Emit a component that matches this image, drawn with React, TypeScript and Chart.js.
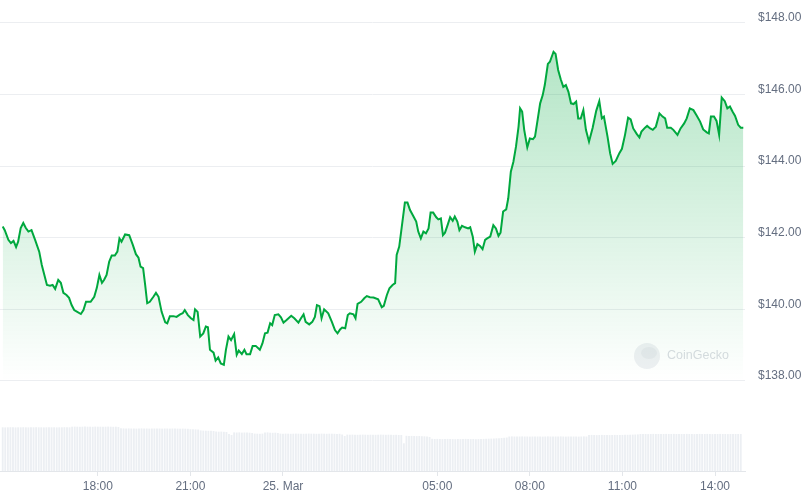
import React, { useEffect, useRef } from "react";
import { Chart, registerables } from "chart.js";

Chart.register(...registerables);

// Minutes since 24 Mar 14:55 for each traced price point
const priceMinutes = [
  0, 4, 11, 16, 21, 26, 30, 35, 40, 45,
  50, 56, 63, 71, 76, 81, 86, 92, 97, 102,
  108, 113, 118, 124, 129, 134, 139, 145, 152, 157,
  162, 171, 178, 183, 188, 193, 197, 202, 207, 212,
  218, 223, 227, 231, 238, 246, 253, 259, 264, 268,
  273, 277, 281, 286, 293, 298, 303, 309, 316, 320,
  325, 332, 338, 345, 350, 354, 360, 366, 371, 374,
  379, 384, 390, 395, 399, 403, 410, 414, 419, 424,
  430, 434, 439, 444, 450, 455, 459, 465, 470, 474,
  481, 486, 492, 500, 505, 510, 515, 520, 524, 529,
  536, 541, 546, 552, 561, 567, 575, 580, 585, 589,
  596, 602, 607, 611, 616, 620, 625, 633, 640, 646,
  651, 656, 660, 666, 671, 675, 682, 686, 690, 697,
  703, 708, 714, 721, 730, 737, 741, 747, 752, 758,
  763, 766, 771, 776, 782, 787, 792, 798, 804, 808,
  813, 818, 823, 828, 832, 837, 843, 847, 852, 856,
  860, 865, 870, 875, 879, 884, 888, 893, 899, 905,
  909, 914, 918, 923, 928, 933, 938, 942, 948, 954,
  959, 964, 968, 973, 979, 983, 988, 993, 998, 1003,
  1006, 1010, 1014, 1020, 1025, 1031, 1035, 1040, 1045, 1050,
  1054, 1060, 1064, 1071, 1075, 1080, 1085, 1090, 1095, 1100,
  1105, 1110, 1115, 1119, 1124, 1129, 1134, 1140, 1147, 1154,
  1160, 1165, 1169, 1176, 1181, 1186, 1192, 1199, 1204, 1210,
  1216, 1221, 1226, 1233, 1238, 1242, 1249, 1253, 1259, 1264,
  1270, 1277, 1283, 1288, 1292, 1299, 1304, 1312, 1318, 1325,
  1330, 1336, 1343, 1349, 1356, 1362, 1369, 1373, 1377, 1383,
  1388, 1393, 1398, 1404, 1409, 1414, 1419, 1424, 1430, 1435,
  1440,
];

const prices = [
  142.31, 142.21, 141.94, 141.85, 141.91, 141.74, 141.89, 142.27, 142.41, 142.27,
  142.17, 142.21, 141.94, 141.61, 141.24, 140.96, 140.68, 140.66, 140.68, 140.57,
  140.82, 140.74, 140.46, 140.40, 140.32, 140.12, 139.98, 139.93, 139.87, 139.98,
  140.21, 140.21, 140.35, 140.60, 140.96, 140.74, 140.82, 140.96, 141.33, 141.50,
  141.50, 141.61, 141.98, 141.89, 142.09, 142.07, 141.80, 141.54, 141.44, 141.19,
  141.15, 140.68, 140.17, 140.21, 140.35, 140.46, 140.35, 139.93, 139.64, 139.61,
  139.81, 139.81, 139.79, 139.86, 139.89, 139.98, 139.84, 139.75, 139.70, 140.00,
  139.93, 139.24, 139.33, 139.52, 139.50, 138.87, 138.79, 138.57, 138.66, 138.49,
  138.45, 138.87, 139.24, 139.14, 139.31, 138.73, 138.85, 138.75, 138.87, 138.75,
  138.75, 138.98, 138.98, 138.87, 139.05, 139.33, 139.35, 139.61, 139.56, 139.84,
  139.86, 139.78, 139.63, 139.70, 139.82, 139.75, 139.63, 139.75, 139.86, 139.65,
  139.58, 139.65, 139.79, 140.12, 140.09, 139.75, 140.00, 139.89, 139.65, 139.42,
  139.33, 139.44, 139.49, 139.47, 139.84, 139.89, 139.86, 139.75, 140.15, 140.21,
  140.31, 140.37, 140.34, 140.33, 140.28, 140.06, 140.10, 140.40, 140.59, 140.68,
  140.73, 141.52, 141.75, 142.31, 142.98, 142.98, 142.77, 142.61, 142.45, 142.17,
  141.98, 142.17, 142.12, 142.26, 142.70, 142.70, 142.57, 142.51, 142.54, 142.07,
  142.14, 142.35, 142.57, 142.47, 142.59, 142.45, 142.21, 142.33, 142.29, 142.26,
  142.29, 142.03, 141.61, 141.82, 141.77, 141.68, 141.94, 141.98, 142.03, 142.35,
  142.26, 142.05, 142.14, 142.73, 142.79, 143.10, 143.84, 144.12, 144.54, 145.10,
  145.61, 145.52, 145.01, 144.52, 144.77, 144.75, 144.82, 145.28, 145.75, 145.98,
  146.26, 146.85, 146.91, 147.19, 147.13, 146.68, 146.42, 146.21, 146.26, 146.07,
  145.75, 145.73, 145.80, 145.33, 145.33, 145.56, 145.01, 144.68, 145.06, 145.54,
  145.81, 145.33, 145.38, 144.82, 144.36, 144.06, 144.14, 144.36, 144.48, 144.87,
  145.35, 145.30, 145.05, 144.89, 144.80, 144.96, 145.07, 145.12, 145.05, 145.01,
  145.10, 145.47, 145.38, 145.33, 145.07, 145.07, 145.01, 144.87, 145.05, 145.19,
  145.33, 145.61, 145.56, 145.42, 145.24, 145.02, 144.94, 144.91, 145.38, 145.38,
  145.26, 144.87, 145.91, 145.81, 145.61, 145.66, 145.52, 145.40, 145.15, 145.07,
  145.07,
];

// Volume per 5-minute bar (relative units)
const volumes = [
  4.37, 4.36, 4.37, 4.38, 4.37, 4.36, 4.37, 4.37, 4.38, 4.37,
  4.36, 4.37, 4.37, 4.38, 4.37, 4.37, 4.36, 4.37, 4.38, 4.37,
  4.37, 4.36, 4.37, 4.37, 4.38, 4.37, 4.37,
  4.43, 4.44, 4.43, 4.42, 4.43, 4.44, 4.43, 4.43, 4.42, 4.44,
  4.43, 4.43, 4.42, 4.43, 4.44, 4.43, 4.42, 4.43, 4.40,
  4.27, 4.26, 4.25, 4.26, 4.25, 4.25, 4.24, 4.25, 4.26, 4.25,
  4.25, 4.24, 4.25, 4.25, 4.26, 4.25, 4.24, 4.25, 4.25, 4.24,
  4.25, 4.25, 4.24, 4.23, 4.24, 4.23, 4.22,
  4.18, 4.17, 4.16, 4.15,
  4.06, 4.04, 4.03, 4.02, 4.03, 4.00,
  3.95, 3.93, 3.94, 3.92, 3.90,
  3.70, 3.60,
  3.86, 3.85, 3.86, 3.84, 3.85, 3.84, 3.83, 3.80,
  3.74, 3.73, 3.72, 3.74,
  3.84, 3.86, 3.83, 3.82, 3.83, 3.80,
  3.74, 3.73, 3.74, 3.73, 3.72, 3.73, 3.74, 3.73, 3.73, 3.72,
  3.73, 3.74, 3.73, 3.73, 3.72, 3.73, 3.74, 3.73, 3.72, 3.73,
  3.73, 3.72, 3.71, 3.72, 3.65, 3.50,
  3.64, 3.63, 3.64, 3.63, 3.62, 3.63, 3.64, 3.63, 3.62, 3.63,
  3.63, 3.62, 3.63, 3.64, 3.63, 3.62, 3.63, 3.62, 3.61, 3.62,
  3.60, 3.60,
  2.77,
  3.52, 3.50, 3.51, 3.50, 3.49, 3.50, 3.48, 3.47, 3.45, 3.40,
  3.22, 3.20, 3.21, 3.20, 3.19, 3.20, 3.21, 3.20, 3.19, 3.18,
  3.20, 3.19, 3.20, 3.21, 3.20, 3.19, 3.20, 3.18, 3.19, 3.20,
  3.21, 3.22, 3.23, 3.24, 3.25, 3.27, 3.28, 3.30, 3.32, 3.35,
  3.45, 3.46, 3.45, 3.44, 3.45, 3.46, 3.45, 3.45, 3.44, 3.45,
  3.46, 3.45, 3.45, 3.44, 3.45, 3.46, 3.45, 3.44, 3.45, 3.45,
  3.46, 3.45, 3.44, 3.45, 3.46, 3.45, 3.45, 3.44, 3.45, 3.46,
  3.45,
  3.60, 3.61, 3.60, 3.59, 3.60, 3.61, 3.60, 3.60, 3.59, 3.60,
  3.61, 3.60, 3.60, 3.61, 3.62, 3.62, 3.63, 3.64, 3.65, 3.66,
  3.70, 3.71, 3.70, 3.69, 3.70, 3.71, 3.70, 3.70, 3.69, 3.70,
  3.71, 3.70, 3.70, 3.71, 3.70, 3.69, 3.70, 3.70, 3.71, 3.70,
  3.70, 3.69, 3.70, 3.71, 3.70, 3.70, 3.71, 3.70, 3.69, 3.70,
  3.70, 3.71, 3.70, 3.70, 3.69, 3.70, 3.71, 3.70, 3.70, 3.70,
];
const volumeStepMinutes = 5;

const xTickMinutes = [185, 365, 545, 845, 1025, 1205, 1385];
const xTickLabels = ["18:00", "21:00", "25. Mar", "05:00", "08:00", "11:00", "14:00"];
const yTickValues = [138, 140, 142, 144, 146, 148];

const LABEL_COLOR = "rgb(100,110,128)";
const LABEL_FONT = { family: '"Liberation Sans", Arial, sans-serif', size: 12 };

export default function App() {
  const ref = useRef<HTMLCanvasElement>(null);

  useEffect(() => {
    const canvas = ref.current;
    if (!canvas) return;

    const watermark = {
      id: "watermark",
      beforeDatasetsDraw(chart: any) {
        const { ctx } = chart;
        ctx.save();
        ctx.fillStyle = "rgb(238,240,243)";
        ctx.beginPath();
        ctx.arc(647, 356, 13, 0, Math.PI * 2);
        ctx.fill();
        ctx.fillStyle = "rgb(229,232,236)";
        ctx.beginPath();
        ctx.ellipse(649, 353, 8, 6, 0, 0, Math.PI * 2);
        ctx.fill();
        ctx.fillStyle = "rgb(216,220,225)";
        ctx.font = '12.5px "Liberation Sans", Arial, sans-serif';
        ctx.textBaseline = "middle";
        ctx.textAlign = "left";
        ctx.fillText("CoinGecko", 667, 356);
        ctx.restore();
      },
    };

    const chart = new Chart(canvas, {
      data: {
        datasets: [
          {
            type: "line",
            data: priceMinutes.map((m, i) => ({ x: m, y: prices[i] })),
            yAxisID: "y",
            borderColor: "rgb(0,168,62)",
            borderWidth: 2,
            pointRadius: 0,
            tension: 0,
            fill: { value: 138 },
            backgroundColor: (c: any) => {
              const ch = c.chart;
              if (!ch.chartArea) return "rgba(0,168,62,0.15)";
              const top = ch.scales.y.getPixelForValue(148);
              const bot = ch.scales.y.getPixelForValue(138);
              const g = ch.ctx.createLinearGradient(0, top, 0, bot);
              g.addColorStop(0, "rgba(0,168,62,0.32)");
              g.addColorStop(1, "rgba(0,168,62,0)");
              return g;
            },
            order: 1,
          } as any,
          {
            type: "bar",
            data: volumes.map((v, i) => ({ x: i * volumeStepMinutes, y: v })),
            yAxisID: "yv",
            backgroundColor: "rgb(236,239,243)",
            barPercentage: 0.72,
            categoryPercentage: 1,
            order: 2,
          } as any,
        ],
      },
      options: {
        animation: false,
        responsive: false,
        layout: { padding: 0 },
        plugins: {
          legend: { display: false },
          tooltip: { enabled: false },
        },
        scales: {
          x: {
            type: "linear",
            offset: false,
            min: -5.25,
            max: 1443.3,
            afterBuildTicks: (s: any) => {
              s.ticks = xTickMinutes.map((v) => ({ value: v }));
            },
            afterFit: (s: any) => {
              s.height = 25;
              s.paddingLeft = 0;
              s.paddingRight = 0;
            },
            grid: {
              offset: false,
              drawOnChartArea: false,
              drawTicks: true,
              tickLength: 5,
              color: "#e3e6ea",
            },
            border: { display: true, color: "#e3e6ea" },
            ticks: {
              autoSkip: false,
              maxRotation: 0,
              padding: 3,
              color: LABEL_COLOR,
              font: LABEL_FONT,
              callback: (_v: any, i: number) => xTickLabels[i],
            },
          },
          y: {
            position: "right",
            min: 135.488,
            max: 148.634,
            afterBuildTicks: (s: any) => {
              s.ticks = yTickValues.map((v) => ({ value: v }));
            },
            afterFit: (s: any) => {
              s.width = 66;
              s.paddingTop = 0;
              s.paddingBottom = 0;
            },
            grid: { color: "#eceef1", drawTicks: false },
            border: { display: false },
            ticks: {
              padding: 13,
              labelOffset: -5,
              color: LABEL_COLOR,
              font: LABEL_FONT,
              callback: (v: any) => "$" + Number(v).toFixed(2),
            },
          },
          yv: {
            display: false,
            min: 0,
            max: 47.1,
          },
        },
      } as any,
      plugins: [watermark],
    });

    return () => chart.destroy();
  }, []);

  return (
    <div style={{ position: "fixed", left: 0, top: 0, width: 811, height: 496, background: "#fff" }}>
      <canvas ref={ref} width={811} height={496} style={{ display: "block", width: 811, height: 496 }} />
    </div>
  );
}
